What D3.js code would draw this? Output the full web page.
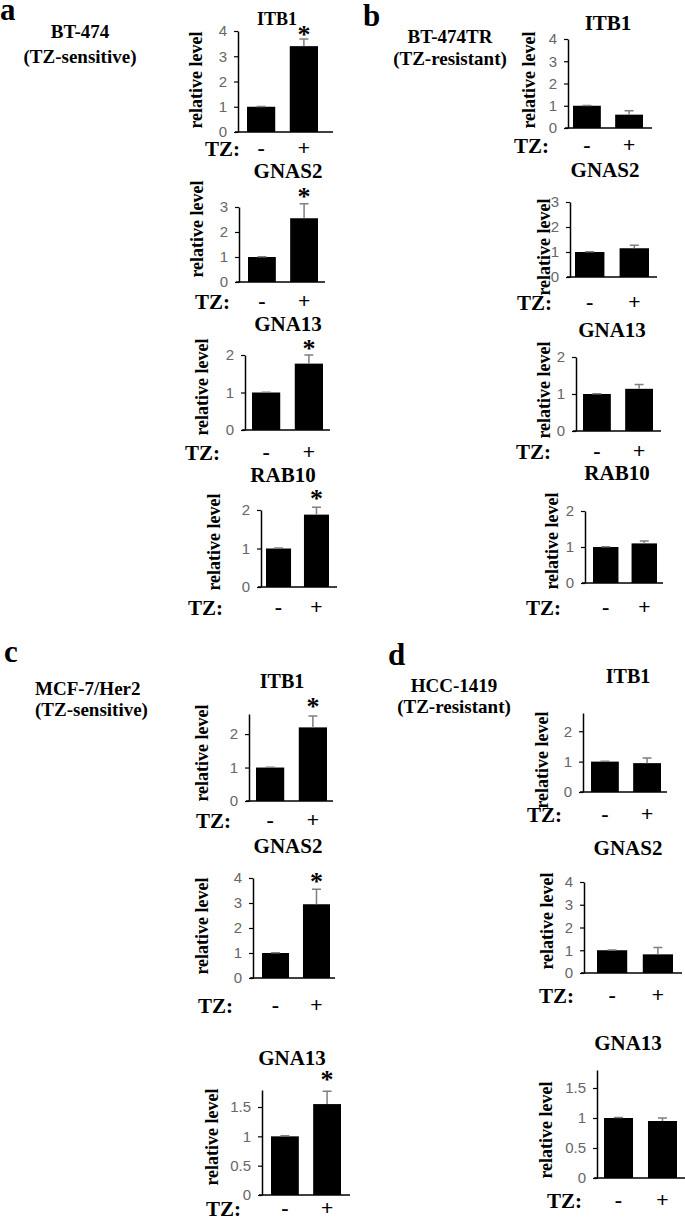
<!DOCTYPE html>
<html>
  <head>
    <meta charset="utf-8">
    <script src="https://d3js.org/d3.v7.min.js"></script>
    <style>
      body { margin: 0; background: #fff; }
      .serif { font-family: "Liberation Serif", "Times New Roman", serif; font-weight: bold; fill: #000; }
      .tick text { font-family: "Liberation Sans", Arial, sans-serif; fill: #666; }
      .tick line { stroke: #000; stroke-width: 1.2px; }
      .domain { stroke: #000; stroke-width: 1.5px; }
      .err { stroke: #7f7f7f; stroke-width: 1.5px; fill: none; }
    </style>
  </head>
  <body>
    <svg width="685" height="1220"></svg>
    <script>

    // ---- data ----
    var panelLetters = ["a", "b", "c", "d"];
    var cellLines = ["BT-474", "BT-474TR", "MCF-7/Her2", "HCC-1419"];
    var sensitivity = ["(TZ-sensitive)", "(TZ-resistant)", "(TZ-sensitive)", "(TZ-resistant)"];
    var treatments = ["-", "+"];

    var genesA = ["ITB1", "GNAS2", "GNA13", "RAB10"];
    var meansA = [[1, 3.4], [1, 2.55], [1, 1.77], [1, 1.88]];
    var errsA  = [[0.01, 0.28], [0.01, 0.58], [0.01, 0.23], [0.01, 0.19]];
    var sigA   = [true, true, true, true];
    var yMaxA  = [4, 3, 2, 2];
    var ticksA = [[0, 1, 2, 3, 4], [0, 1, 2, 3], [0, 1, 2], [0, 1, 2]];

    var genesB = ["ITB1", "GNAS2", "GNA13", "RAB10"];
    var meansB = [[1, 0.6], [1, 1.15], [1, 1.14], [1, 1.1]];
    var errsB  = [[0.01, 0.17], [0.01, 0.12], [0.01, 0.12], [0.01, 0.07]];
    var sigB   = [false, false, false, false];
    var yMaxB  = [4, 3, 2, 2];
    var ticksB = [[0, 1, 2, 3, 4], [0, 1, 2, 3], [0, 1, 2], [0, 1, 2]];

    var genesC = ["ITB1", "GNAS2", "GNA13"];
    var meansC = [[1, 2.2], [1, 2.95], [1, 1.55]];
    var errsC  = [[0.01, 0.34], [0.01, 0.6], [0.01, 0.22]];
    var sigC   = [true, true, true];
    var yMaxC  = [2.6, 4, 1.79];
    var ticksC = [[0, 1, 2], [0, 1, 2, 3, 4], [0, 0.5, 1, 1.5]];

    var genesD = ["ITB1", "GNAS2", "GNA13"];
    var meansD = [[1, 0.95], [1, 0.82], [1, 0.95]];
    var errsD  = [[0.01, 0.17], [0.01, 0.3], [0.01, 0.05]];
    var sigD   = [false, false, false];
    var yMaxD  = [2.6, 4, 1.8];
    var ticksD = [[0, 1, 2], [0, 1, 2, 3, 4], [0, 0.5, 1, 1.5]];

    // ---- layout (pixel frames of each small chart) ----
    var headers = [
      {lx: 0,   ly: 20,  anchor: "middle", cx: 80,  y1: 38,  y2: 63},
      {lx: 363, ly: 26,  anchor: "middle", cx: 450, y1: 43,  y2: 65},
      {lx: 4,   ly: 662, anchor: "start",  cx: 35,  y1: 695, y2: 716},
      {lx: 388, ly: 665, anchor: "middle", cx: 454, y1: 692, y2: 713}
    ];

    var frames = [
      [ {ax: 238, xEnd: 333, y0: 132, yTop: 31,  b0: 247, b1: 318, tx: 277, ty: 25,  ts: 18, tzx: 205, tzy: 156, lx: 202, ly: 80,  sg: 8},
        {ax: 239, xEnd: 325, y0: 282, yTop: 207, b0: 248, b1: 318, tx: 288, ty: 178, ts: 21, tzx: 195, tzy: 309, lx: 203, ly: 229, sg: 11},
        {ax: 245, xEnd: 330, y0: 430, yTop: 355, b0: 252, b1: 323, tx: 288, ty: 331, ts: 21, tzx: 185, tzy: 460, lx: 208, ly: 387, sg: 10},
        {ax: 261, xEnd: 337, y0: 587, yTop: 510, b0: 266, b1: 329, tx: 283, ty: 482, ts: 21, tzx: 188, tzy: 615, lx: 220, ly: 542, sg: 12} ],
      [ {ax: 568, xEnd: 652, y0: 128, yTop: 39,  b0: 573, b1: 643, tx: 608, ty: 30,  ts: 21, tzx: 514, tzy: 153, lx: 535, ly: 80},
        {ax: 570, xEnd: 657, y0: 277, yTop: 202, b0: 575, b1: 649, tx: 605, ty: 177, ts: 21, tzx: 517, tzy: 310, lx: 550, ly: 247},
        {ax: 576, xEnd: 661, y0: 431, yTop: 357, b0: 583, b1: 653, tx: 612, ty: 337, ts: 21, tzx: 516, tzy: 459, lx: 550, ly: 390},
        {ax: 585, xEnd: 663, y0: 583, yTop: 511, b0: 593, b1: 657, tx: 617, ty: 480, ts: 21, tzx: 526, tzy: 615, lx: 558, ly: 541} ],
      [ {ax: 249, xEnd: 333, y0: 801, yTop: 714, b0: 256, b1: 327, tx: 282, ty: 688, ts: 20, tzx: 196, tzy: 828, lx: 208, ly: 753, sg: 13},
        {ax: 253, xEnd: 335, y0: 978, yTop: 878, b0: 262, b1: 330, tx: 288, ty: 853, ts: 21, tzx: 198, tzy: 1013, lx: 208, ly: 926, sg: 11},
        {ax: 262, xEnd: 350, y0: 1195, yTop: 1090, b0: 271, b1: 341, tx: 292, ty: 1065, ts: 21, tzx: 206, tzy: 1216, lx: 218, ly: 1137, sg: 15} ],
      [ {ax: 583, xEnd: 667, y0: 792, yTop: 713, b0: 591, b1: 661, tx: 628, ty: 683, ts: 20, tzx: 527, tzy: 822, lx: 548, ly: 760},
        {ax: 584, xEnd: 682, y0: 973, yTop: 882, b0: 597, b1: 673, tx: 628, ty: 855, ts: 21, tzx: 539, tzy: 1003, lx: 553, ly: 921},
        {ax: 597, xEnd: 685, y0: 1178, yTop: 1070, b0: 604, b1: 677, tx: 628, ty: 1050, ts: 21, tzx: 547, tzy: 1208, lx: 552, ly: 1130} ]
    ];

    var panels = [
      {genes: genesA, means: meansA, errs: errsA, sig: sigA, yMax: yMaxA, ticks: ticksA},
      {genes: genesB, means: meansB, errs: errsB, sig: sigB, yMax: yMaxB, ticks: ticksB},
      {genes: genesC, means: meansC, errs: errsC, sig: sigC, yMax: yMaxC, ticks: ticksC},
      {genes: genesD, means: meansD, errs: errsD, sig: sigD, yMax: yMaxD, ticks: ticksD}
    ];

    var svg = d3.select("svg");

    panels.forEach(function(p, pi) {
      var h = headers[pi];
      svg.append("text").attr("class", "serif")
         .attr("x", h.lx).attr("y", h.ly)
         .style("font-size", "31px")
         .text(panelLetters[pi]);
      svg.append("text").attr("class", "serif")
         .attr("x", h.cx).attr("y", h.y1)
         .attr("text-anchor", h.anchor)
         .style("font-size", "19px")
         .text(cellLines[pi]);
      svg.append("text").attr("class", "serif")
         .attr("x", h.cx).attr("y", h.y2)
         .attr("text-anchor", h.anchor)
         .style("font-size", "19px")
         .text(sensitivity[pi]);

      p.genes.forEach(function(gene, gi) {
        var f = frames[pi][gi];
        var g = svg.append("g");

        var x = d3.scaleBand().domain(treatments).range([f.b0, f.b1]).paddingInner(0.34).paddingOuter(0);
        var y = d3.scaleLinear().domain([0, p.yMax[gi]]).range([f.y0, f.yTop]);

        var rows = treatments.map(function(t, i) {
          return {t: t, mean: p.means[gi][i], err: p.errs[gi][i]};
        });

        // bars
        g.selectAll(".bar").data(rows).enter().append("rect")
          .attr("x", function(d) { return x(d.t); })
          .attr("width", x.bandwidth())
          .attr("y", function(d) { return y(d.mean); })
          .attr("height", function(d) { return f.y0 - y(d.mean); })
          .attr("fill", "#000");

        // error bars (upper only)
        g.selectAll(".err").data(rows).enter().append("path")
          .attr("class", "err")
          .attr("d", function(d) {
            var cx = x(d.t) + x.bandwidth() / 2, top = y(d.mean + d.err);
            return "M" + cx + "," + y(d.mean) + "V" + top + "M" + (cx - 4.5) + "," + top + "H" + (cx + 4.5);
          });

        // y axis
        g.append("g")
          .attr("transform", "translate(" + f.ax + ",0)")
          .call(d3.axisLeft(y).tickValues(p.ticks[gi]).tickFormat(d3.format("~g"))
                  .tickSize(4).tickSizeOuter(0).tickPadding(7))
          .selectAll("text").style("font-size", "15px");

        // x baseline
        g.append("line")
          .attr("x1", f.ax - 3).attr("x2", f.xEnd)
          .attr("y1", f.y0).attr("y2", f.y0)
          .attr("stroke", "#000").attr("stroke-width", 1.5);

        // title
        g.append("text").attr("class", "serif")
          .attr("x", f.tx).attr("y", f.ty)
          .attr("text-anchor", "middle")
          .style("font-size", f.ts + "px")
          .text(gene);

        // y label
        g.append("text").attr("class", "serif")
          .attr("transform", "translate(" + f.lx + "," + f.ly + ") rotate(-90)")
          .attr("text-anchor", "middle")
          .style("font-size", "18px")
          .text("relative level");

        // treatment row
        g.append("text").attr("class", "serif")
          .attr("x", f.tzx).attr("y", f.tzy)
          .style("font-size", "21px")
          .text("TZ:");
        g.selectAll(".trt").data(rows).enter().append("text")
          .attr("x", function(d) { return x(d.t) + x.bandwidth() / 2; })
          .attr("y", f.tzy - 1)
          .attr("text-anchor", "middle")
          .style("font-family", function(d) { return d.t === "-" ? "Liberation Serif, serif" : "Liberation Sans, Arial, sans-serif"; })
          .style("font-weight", function(d) { return d.t === "-" ? "bold" : "normal"; })
          .style("font-size", function(d) { return d.t === "-" ? "22px" : "21px"; })
          .text(function(d) { return d.t; });

        // significance star
        if (p.sig[gi]) {
          var last = rows[1];
          g.append("text").attr("class", "serif")
            .attr("x", x(last.t) + x.bandwidth() / 2)
            .attr("y", y(last.mean + last.err) - f.sg + 12)
            .attr("text-anchor", "middle")
            .style("font-size", "26px")
            .text("*");
        }
      });
    });

    </script>
  </body>
</html>
